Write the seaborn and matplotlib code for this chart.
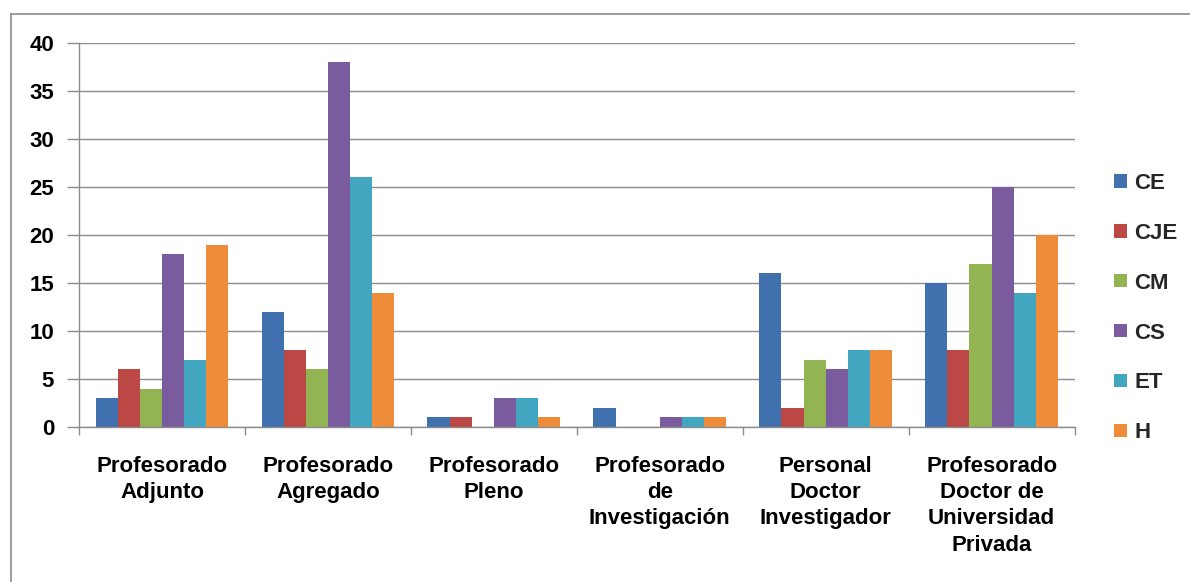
import matplotlib
matplotlib.use("Agg")
import matplotlib.pyplot as plt
from matplotlib.lines import Line2D
import seaborn as sns
import pandas as pd

sns.set_theme(style="white")
plt.rcParams["font.family"] = ["Liberation Sans", "DejaVu Sans"]
plt.rcParams["font.weight"] = "bold"

# data
categories = [
    "Profesorado\nAdjunto",
    "Profesorado\nAgregado",
    "Profesorado\nPleno",
    "Profesorado\nde\nInvestigación",
    "Personal\nDoctor\nInvestigador",
    "Profesorado\nDoctor de\nUniversidad\nPrivada",
]
series = ["CE", "CJE", "CM", "CS", "ET", "H"]
ce = [3, 12, 1, 2, 16, 15]
cje = [6, 8, 1, 0, 2, 8]
cm = [4, 6, 0, 0, 7, 17]
cs = [18, 38, 3, 1, 6, 25]
et = [7, 26, 3, 1, 8, 14]
h = [19, 14, 1, 1, 8, 20]
colors = ["#4170AE", "#BB4845", "#93B452", "#7A5C9E", "#43A6C1", "#EE8C3A"]

values = [ce, cje, cm, cs, et, h]
rows = []
for s, vals in zip(series, values):
    for c, v in zip(categories, vals):
        rows.append({"Categoria": c, "Area": s, "Valor": v})
df = pd.DataFrame(rows)

fig = plt.figure(figsize=(11.9, 5.82), dpi=100)
ax = fig.add_axes([0.0664, 0.2663, 0.8366, 0.6597])

sns.barplot(
    data=df, x="Categoria", y="Valor", hue="Area",
    palette=colors, width=0.8, saturation=1, ax=ax, linewidth=0,
)

ax.set_ylim(0, 40)
ax.set_xlim(-0.5, len(categories) - 0.5)
ax.set_yticks(range(0, 41, 5))
ax.yaxis.grid(True, color="#8c8c8c", linewidth=1.0)
ax.set_axisbelow(True)
ax.set_xlabel("")
ax.set_ylabel("")

for side in ["top", "right"]:
    ax.spines[side].set_visible(False)
for side in ["left", "bottom"]:
    ax.spines[side].set_color("#8c8c8c")
    ax.spines[side].set_linewidth(1.0)

fs = 16
ax.tick_params(axis="y", left=True, length=9, width=1, color="#8c8c8c",
               labelsize=fs, pad=9)
ax.tick_params(axis="x", which="major", length=0, labelsize=fs, pad=21)
ax.set_xticks([i - 0.5 for i in range(len(categories) + 1)], minor=True)
ax.tick_params(axis="x", which="minor", bottom=True, length=6, width=1,
               color="#8c8c8c")
for lab in ax.get_xticklabels():
    lab.set_linespacing(1.32)
    lab.set_va("top")
for lab in ax.get_xticklabels() + ax.get_yticklabels():
    lab.set_fontweight("bold")
    lab.set_color("black")

leg = ax.legend(
    loc="upper left", bbox_to_anchor=(1.02, 0.714), frameon=False,
    handlelength=0.55, handleheight=0.55, handletextpad=0.35,
    labelspacing=1.3, fontsize=fs,
)
for t in leg.get_texts():
    t.set_fontweight("bold")

# outer chart frame (top and left edges visible)
fig.add_artist(Line2D([11 / 1190, 1], [1 - 14 / 582, 1 - 14 / 582],
                      color="#8c8c8c", linewidth=1.2))
fig.add_artist(Line2D([11 / 1190, 11 / 1190], [0, 1 - 14 / 582],
                      color="#8c8c8c", linewidth=1.2))

fig.savefig("out.png", dpi=100)
plt.close(fig)
